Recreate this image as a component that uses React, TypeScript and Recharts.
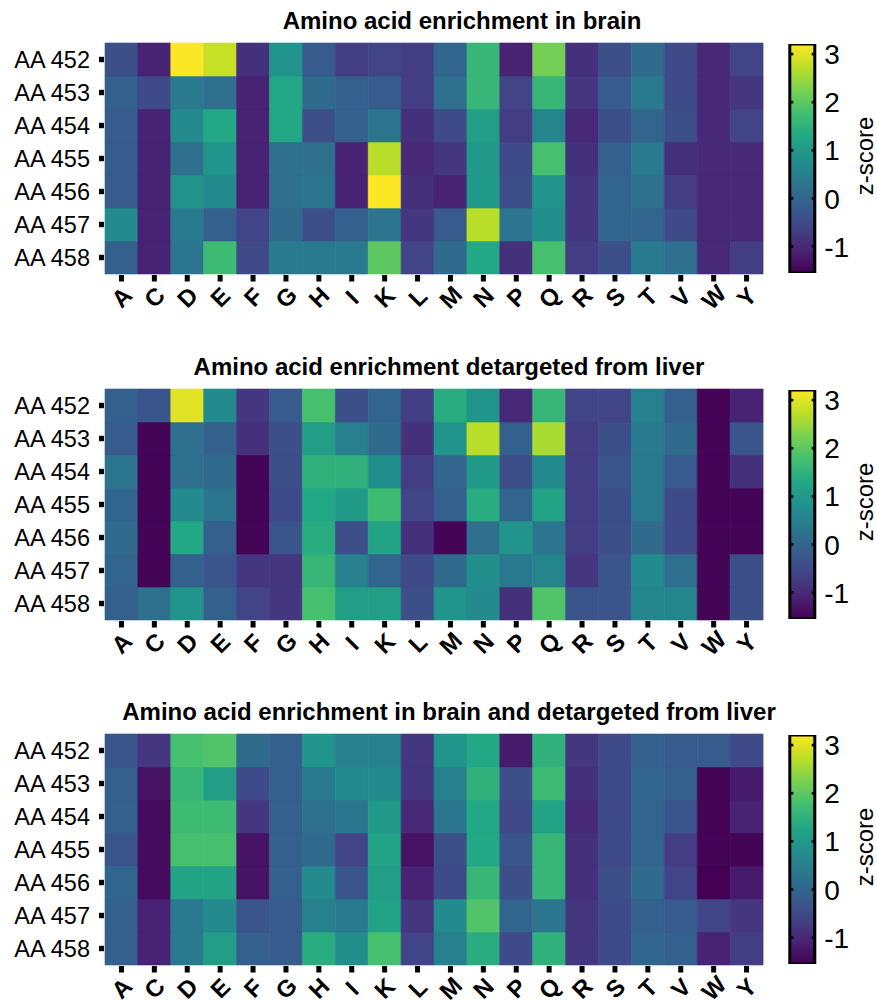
import React from "react";
import { BarChart, Bar, Cell, XAxis, YAxis, Label } from "recharts";

const aminoAcids = ["A", "C", "D", "E", "F", "G", "H", "I", "K", "L", "M", "N", "P", "Q", "R", "S", "T", "V", "W", "Y"];
const positions = ["AA 452", "AA 453", "AA 454", "AA 455", "AA 456", "AA 457", "AA 458"];

// z-scores, one row per position (452 -> 458), one value per amino acid
const brainZ = [
  [-0.4, -1.1, 3.2, 2.8, -0.9, 0.9, -0.2, -0.7, -0.6, -0.7, 0.0, 1.6, -1.1, 2.2, -0.9, -0.4, 0.1, -0.5, -1.0, -0.6],
  [-0.1, -0.5, 0.4, 0.2, -1.1, 1.3, 0.1, -0.1, -0.2, -0.7, 0.2, 1.6, -0.6, 1.6, -0.8, -0.2, 0.4, -0.5, -1.0, -0.8],
  [-0.2, -1.1, 0.7, 1.3, -1.1, 1.3, -0.4, -0.1, 0.3, -0.9, -0.5, 1.1, -0.7, 0.6, -1.0, -0.4, 0.0, -0.4, -1.0, -0.6],
  [-0.2, -1.1, 0.2, 0.9, -1.1, 0.2, 0.2, -1.1, 2.7, -1.0, -0.8, 1.0, -0.5, 1.8, -0.9, -0.1, 0.4, -0.9, -1.0, -1.0],
  [-0.2, -1.1, 0.9, 0.7, -1.1, 0.2, 0.3, -1.1, 3.2, -0.9, -1.1, 1.0, -0.4, 0.9, -0.8, 0.0, 0.2, -0.7, -1.0, -1.0],
  [0.7, -1.1, 0.4, -0.1, -0.6, 0.1, -0.4, -0.1, 0.3, -0.8, -0.2, 2.7, 0.3, 0.8, -0.8, 0.0, 0.0, -0.5, -1.0, -1.0],
  [-0.1, -1.1, 0.3, 1.7, -0.5, 0.4, 0.4, 0.4, 2.0, -0.6, 0.1, 1.3, -0.9, 1.8, -0.7, -0.4, 0.4, 0.2, -1.0, -0.7],
];

const liverZ = [
  [-0.1, -0.3, 3.0, 0.7, -0.8, -0.2, 1.8, -0.4, 0.0, -0.7, 1.4, 0.9, -1.0, 1.6, -0.6, -0.6, 0.5, -0.1, -1.5, -1.1],
  [-0.2, -1.5, 0.2, -0.1, -0.9, -0.4, 1.1, 0.5, 0.1, -0.9, 0.9, 2.7, -0.1, 2.6, -0.7, -0.4, 0.4, 0.1, -1.5, -0.3],
  [0.3, -1.5, 0.2, 0.1, -1.5, -0.4, 1.5, 1.5, 0.8, -0.7, 0.0, 1.0, -0.4, 0.7, -0.7, -0.3, 0.4, -0.2, -1.5, -0.9],
  [0.0, -1.5, 0.7, 0.3, -1.5, -0.5, 1.3, 1.0, 1.7, -0.6, -0.1, 1.4, 0.0, 1.2, -0.7, -0.4, 0.4, -0.5, -1.5, -1.5],
  [0.1, -1.5, 1.3, -0.1, -1.5, -0.3, 1.4, -0.4, 1.2, -0.9, -1.5, 0.2, 0.9, 0.3, -0.7, -0.4, 0.1, -0.5, -1.5, -1.5],
  [0.0, -1.5, -0.1, -0.3, -0.8, -0.8, 1.6, 0.5, 0.0, -0.5, 0.1, 0.8, 0.4, 0.6, -0.8, -0.3, 0.7, 0.2, -1.5, -0.4],
  [-0.1, 0.2, 0.9, -0.1, -0.6, -0.8, 1.8, 1.1, 1.1, -0.4, 0.9, 0.7, -0.9, 1.9, -0.3, -0.3, 0.6, 0.6, -1.5, -0.4],
];

const combinedZ = [
  [-0.3, -0.8, 1.8, 1.9, 0.1, -0.1, 0.9, 0.5, 0.5, -0.8, 0.9, 1.3, -1.2, 1.5, -0.8, -0.5, -0.1, -0.2, -0.2, -0.5],
  [-0.1, -1.3, 1.6, 1.1, -0.5, -0.1, 0.4, 0.7, 0.7, -0.8, 0.5, 1.5, -0.4, 1.7, -0.9, -0.5, 0.0, -0.1, -1.5, -1.2],
  [-0.1, -1.4, 1.7, 1.7, -0.8, -0.1, 0.2, 0.3, 1.0, -1.0, 0.3, 1.3, -0.5, 1.2, -1.0, -0.5, 0.0, -0.3, -1.5, -1.1],
  [-0.3, -1.4, 1.8, 1.8, -1.3, -0.1, 0.1, -0.6, 1.2, -1.3, -0.4, 1.3, -0.3, 1.6, -0.9, -0.5, 0.0, -0.7, -1.5, -1.5],
  [0.0, -1.4, 1.2, 1.2, -1.3, -0.1, 0.7, -0.3, 1.1, -1.1, -0.5, 1.6, -0.4, 1.6, -0.9, -0.4, 0.1, -0.6, -1.55, -1.2],
  [-0.1, -1.1, 0.4, 0.7, -0.3, -0.2, 0.5, 0.4, 1.2, -0.8, 0.7, 1.9, 0.0, 0.3, -0.8, -0.5, -0.1, -0.2, -0.6, -0.8],
  [-0.1, -1.1, 0.4, 1.1, -0.1, -0.2, 1.4, 0.8, 1.8, -0.6, 0.5, 1.4, -0.5, 1.5, -0.8, -0.5, 0.0, -0.1, -1.1, -0.7],
];

const titles = [
  "Amino acid enrichment in brain",
  "Amino acid enrichment detargeted from liver",
  "Amino acid enrichment in brain and detargeted from liver",
];

const zMin = -1.55;
const zMax = 3.21;
const zTicks = [-1, 0, 1, 2, 3];

const viridis = [
  "#440154", "#482475", "#414487", "#355f8d", "#2a788e", "#21918c",
  "#22a884", "#44bf70", "#7ad151", "#bddf26", "#fde725",
];

const hexToRgb = (h: string) => [1, 3, 5].map((i) => parseInt(h.slice(i, i + 2), 16));

const zColor = (v: number) => {
  const t = Math.max(0, Math.min(1, (v - zMin) / (zMax - zMin)));
  const pos = t * (viridis.length - 1);
  const i = Math.min(Math.floor(pos), viridis.length - 2);
  const f = pos - i;
  const a = hexToRgb(viridis[i]);
  const b = hexToRgb(viridis[i + 1]);
  const c = a.map((x, k) => Math.round(x + (b[k] - x) * f));
  return `rgb(${c[0]},${c[1]},${c[2]})`;
};

const FONT = "'Liberation Sans', Arial, sans-serif";
const panelTops = [43, 389, 734];
const titleCenters = [462, 449, 449];

const RowTick = (props: any) => {
  const { x, y, payload } = props;
  const label = positions[Math.round(6.5 - payload.value)];
  return (
    <g>
      <rect x={x - 6} y={y - 2.7} width={5} height={5.4} fill="#000" />
      <text x={x - 15} y={y} dy="0.36em" textAnchor="end" fontSize={23.5} fontFamily={FONT} fill="#000">
        {label}
      </text>
    </g>
  );
};

const AaTick = (props: any) => {
  const { x, y, payload } = props;
  const cy = y + 23;
  return (
    <g>
      <rect x={x - 2.5} y={y + 1} width={5} height={6.5} fill="#000" />
      <text
        x={x}
        y={cy}
        dy="0.36em"
        textAnchor="middle"
        fontSize={24}
        fontWeight="bold"
        fontFamily={FONT}
        fill="#000"
        transform={`rotate(-45, ${x}, ${cy})`}
      >
        {payload.value}
      </text>
    </g>
  );
};

const barWidth = 25.4;

const ZTick = (props: any) => {
  const { x, y, payload } = props;
  return (
    <g>
      <rect x={x - 3.5} y={y - 1.3} width={3.5} height={2.6} fill="#000" />
      <rect x={x - barWidth} y={y - 1.3} width={3.5} height={2.6} fill="#000" />
      <text x={x + 9} y={y} dy="0.36em" textAnchor="start" fontSize={28} fontFamily={FONT} fill="#000">
        {payload.value}
      </text>
    </g>
  );
};

const Heatmap = ({ values, top }: { values: number[][]; top: number }) => {
  const table = aminoAcids.map((aa) => {
    const row: any = { aa };
    positions.forEach((_, r) => (row[`p${r}`] = 1));
    return row;
  });
  const order = [6, 5, 4, 3, 2, 1, 0];
  return (
    <div style={{ position: "absolute", left: 0, top: top - 43 }}>
      <BarChart
        width={770}
        height={334}
        data={table}
        margin={{ top: 43, right: 7, bottom: 10, left: 5 }}
        barCategoryGap={0}
        barGap={0}
        style={{ overflow: "visible" }}
      >
        <XAxis
          dataKey="aa"
          type="category"
          axisLine={false}
          tickLine={false}
          tickSize={0}
          tickMargin={0}
          interval={0}
          height={50}
          tick={<AaTick />}
        />
        <YAxis
          type="number"
          domain={[0, 7]}
          ticks={[0.5, 1.5, 2.5, 3.5, 4.5, 5.5, 6.5]}
          axisLine={false}
          tickLine={false}
          tickSize={0}
          tickMargin={0}
          width={100}
          tick={<RowTick />}
        />
        {order.map((r) => (
          <Bar key={r} dataKey={`p${r}`} stackId="hm" isAnimationActive={false}>
            {aminoAcids.map((aa, c) => {
              const fill = zColor(values[r][c]);
              return <Cell key={aa} fill={fill} stroke={fill} strokeWidth={0.6} />;
            })}
          </Bar>
        ))}
      </BarChart>
    </div>
  );
};

const ColorBar = ({ top, id }: { top: number; id: string }) => {
  const table = [{ k: "z", range: [zMin, zMax] }];
  return (
    <div style={{ position: "absolute", left: 700, top: top - 20 }}>
      <BarChart
        width={177}
        height={272}
        data={table}
        margin={{ top: 21, right: 6.8, bottom: 22, left: 89.8 }}
        barCategoryGap={0}
        style={{ overflow: "visible" }}
      >
        <defs>
          <linearGradient id={id} x1="0" y1="1" x2="0" y2="0">
            {viridis.map((c, i) => (
              <stop key={c} offset={`${(i / (viridis.length - 1)) * 100}%`} stopColor={c} />
            ))}
          </linearGradient>
        </defs>
        <XAxis dataKey="k" hide />
        <YAxis
          orientation="right"
          type="number"
          domain={[zMin, zMax]}
          allowDataOverflow
          ticks={zTicks}
          axisLine={false}
          tickLine={false}
          tickSize={0}
          tickMargin={0}
          width={55}
          tick={<ZTick />}
        >
          <Label
            content={() => (
              <text
                x={164}
                y={133}
                textAnchor="middle"
                dy="0.36em"
                fontSize={24}
                fontFamily={FONT}
                fill="#000"
                transform="rotate(-90, 164, 133)"
              >
                z-score
              </text>
            )}
          />
        </YAxis>
        <Bar dataKey="range" fill={`url(#${id})`} stroke="#000" strokeWidth={3} isAnimationActive={false} />
      </BarChart>
    </div>
  );
};

export default function App() {
  const panels = [brainZ, liverZ, combinedZ];
  return (
    <div
      style={{
        position: "absolute",
        left: 0,
        top: 0,
        width: 877,
        height: 1003,
        background: "#fff",
        fontFamily: FONT,
        overflow: "hidden",
      }}
    >
      {panels.map((vals, i) => (
        <React.Fragment key={i}>
          <div
            style={{
              position: "absolute",
              left: titleCenters[i] - 400,
              width: 800,
              top: panelTops[i] - 34.3,
              textAlign: "center",
              fontSize: 24,
              lineHeight: "24px",
              fontWeight: "bold",
              color: "#000",
              whiteSpace: "nowrap",
            }}
          >
            {titles[i]}
          </div>
          <Heatmap values={vals} top={panelTops[i]} />
          <ColorBar top={panelTops[i]} id={`zgrad${i}`} />
        </React.Fragment>
      ))}
    </div>
  );
}
